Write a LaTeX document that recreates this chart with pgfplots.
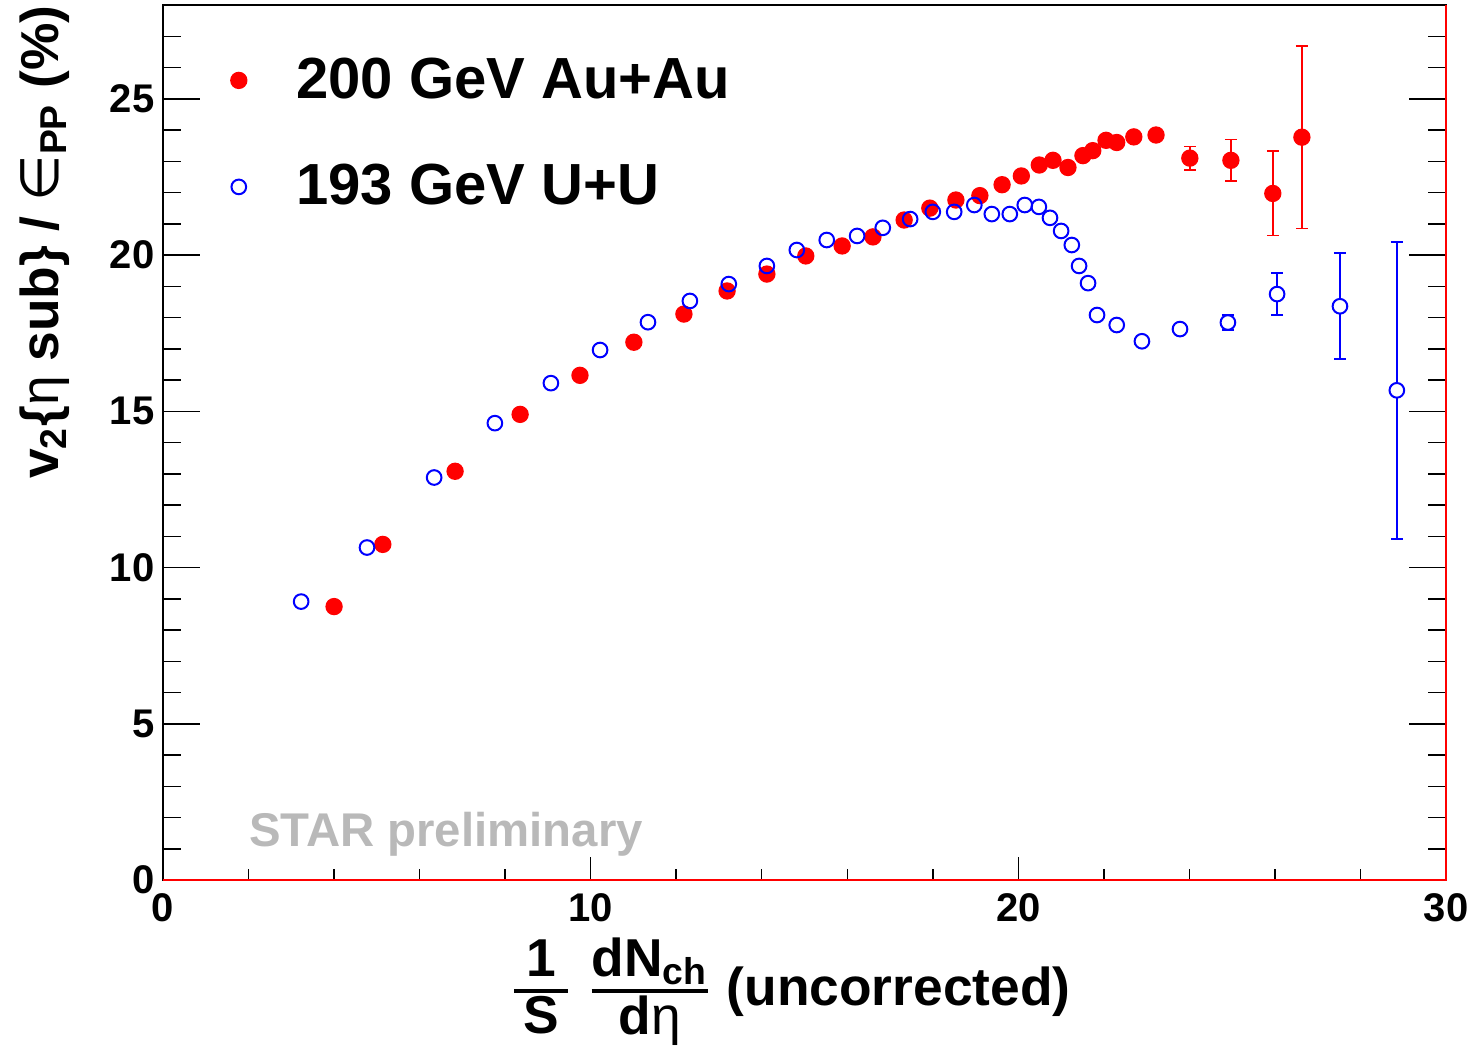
\documentclass[border=0pt]{standalone}
\usepackage{pgfplots}
\pgfplotsset{compat=1.18}
\usepackage{pgfplotstable}
\usepackage{amsmath}
\usepackage{fontspec}
\setmainfont{Liberation Sans}
\newfontfamily\dejavu{DejaVu Sans}

\definecolor{rootred}{RGB}{255,0,0}
\definecolor{rootblue}{RGB}{0,0,255}
\definecolor{prelim}{RGB}{185,185,185}

% 200 GeV Au+Au, points without visible error bars
\pgfplotstableread{
x y
4.00 8.75
5.14 10.74
6.83 13.08
8.35 14.90
9.75 16.15
11.01 17.21
12.18 18.11
13.19 18.85
14.12 19.39
15.03 19.97
15.88 20.29
16.60 20.58
17.33 21.12
17.93 21.50
18.54 21.76
19.10 21.90
19.62 22.25
20.07 22.53
20.49 22.88
20.81 23.03
21.16 22.80
21.51 23.18
21.74 23.34
22.05 23.67
22.30 23.60
22.70 23.78
23.22 23.84
}\auau
% 200 GeV Au+Au, points with error bars
\pgfplotstableread{
x y e
24.01 23.10 0.37
24.97 23.03 0.67
25.95 21.97 1.35
26.63 23.77 2.92
}\auauerr

% 193 GeV U+U
\pgfplotstableread{
x y
3.23 8.91
4.77 10.64
6.34 12.88
7.76 14.62
9.07 15.90
10.22 16.96
11.34 17.85
12.32 18.53
13.23 19.07
14.12 19.65
14.82 20.16
15.52 20.48
16.23 20.61
16.83 20.87
17.47 21.15
18.00 21.38
18.50 21.38
18.97 21.60
19.38 21.31
19.80 21.31
20.15 21.60
20.48 21.54
20.74 21.19
21.00 20.77
21.25 20.32
21.42 19.65
21.63 19.10
21.84 18.08
22.30 17.76
22.89 17.24
23.78 17.63
}\uu
\pgfplotstableread{
x y e
24.90 17.84 0.25
26.05 18.75 0.67
27.52 18.36 1.70
28.85 15.67 4.75
}\uuerr

\begin{document}
\begin{tikzpicture}
\begin{axis}[
    name=ax,
    scale only axis,
    width=384.9pt, height=262.5pt,
    xmin=0, xmax=30, ymin=0, ymax=28,
    xtick={0,10,20,30},
    minor xtick={2,4,...,28},
    ytick={0,5,...,25},
    minor ytick={1,2,...,27},
    tick align=inside,
    xtick pos=bottom,
    ytick pos=both,
    yticklabel pos=left,
    axis line style={line width=0.6pt},
    tick style={black, line width=0.45pt},
    x tick style={/pgfplots/major tick length=6.8pt, /pgfplots/minor tick length=3.3pt},
    y tick style={/pgfplots/major tick length=11pt, /pgfplots/minor tick length=5.5pt},
    /pgf/number format/assume math mode=true,
    ticklabel style={font=\fontsize{12}{14}\selectfont\bfseries, inner sep=0pt},
    xticklabel style={yshift=-3.9pt},
    yticklabel style={xshift=-2.4pt},
    xlabel={$\genfrac{}{}{1.1pt}{1}{\mbox{1\vphantom{,}}}{\mbox{\,S\,}}\;\genfrac{}{}{1.1pt}{1}{\mbox{dN\textsubscript{ch}}}{\mbox{d{\mdseries η}}}$ (uncorrected)},
    xlabel style={font=\fontsize{16}{19}\selectfont\bfseries, inner sep=0pt,
        at={(axis description cs:0.489,0)}, anchor=center, yshift=-33.5pt},
    ylabel={v\textsubscript{2}\{{\mdseries η} sub\} / {\dejavu\mdseries ∈}\textsubscript{PP} (\%)},
    ylabel style={font=\fontsize{16}{19}\selectfont\bfseries, inner sep=0pt,
        at={(axis description cs:-0.0725,1)}, anchor=south east},
    legend style={draw=none, fill=none, inner sep=0pt,
        at={(axis cs:1.50,26.55)}, anchor=north west,
        font=\fontsize{17.4}{20}\selectfont\bfseries,
        row sep=14.3pt, nodes={inner sep=2pt}},
    legend cell align=left,
    legend image code/.code={\draw[#1] plot coordinates {(0pt,0pt)}; \path (-3pt,0pt) (15pt,0pt);},
]

\addplot[only marks, mark=*, mark size=2.4pt, draw=rootred, fill=rootred]
    table[x=x, y=y] {\auau};
\addlegendentry{200 GeV Au+Au}

\addplot[only marks, mark=o, mark size=2.2pt, draw=rootblue, line width=0.6pt]
    table[x=x, y=y] {\uu};
\addlegendentry{193 GeV U+U}

\addplot[forget plot, only marks, mark=*, mark size=2.4pt, draw=rootred, fill=rootred,
    error bars/.cd, y dir=both, y explicit,
    error bar style={rootred, line width=0.5pt},
    error mark options={rotate=90, mark size=1.8pt, rootred, line width=0.5pt}]
    table[x=x, y=y, y error=e] {\auauerr};

\addplot[forget plot, only marks, mark=*, mark size=2.2pt, draw=rootblue, fill=white,
    line width=0.6pt,
    error bars/.cd, y dir=both, y explicit,
    error bar style={rootblue, line width=0.6pt},
    error mark options={rotate=90, mark size=1.8pt, rootblue, line width=0.6pt}]
    table[x=x, y=y, y error=e] {\uuerr};

\node[anchor=base west, inner sep=0pt, text=prelim,
    font=\fontsize{14.2}{16}\selectfont\bfseries] at (axis cs:2.0,1.06) {STAR preliminary};
\end{axis}

% red bottom and right frame lines, as in the original
\draw[rootred, line width=0.6pt] (ax.south west) -- (ax.south east) -- (ax.north east);

\pgfresetboundingbox
\path ([xshift=-48.9pt, yshift=-50.4pt]ax.south west) rectangle ([xshift=9pt, yshift=1.5pt]ax.north east);
\end{tikzpicture}
\end{document}
